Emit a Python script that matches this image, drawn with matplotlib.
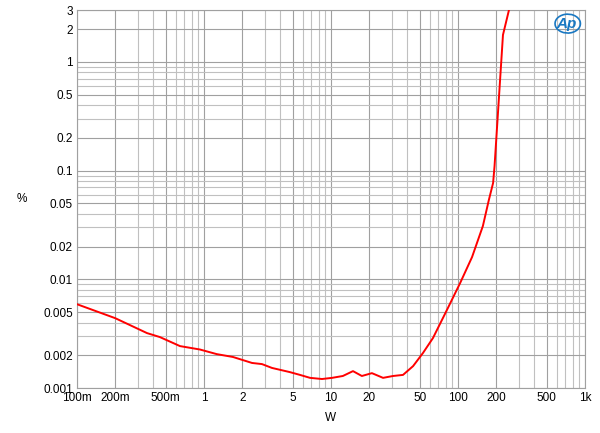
import matplotlib
matplotlib.use("Agg")
import matplotlib.pyplot as plt
from matplotlib.patches import Ellipse
from matplotlib.ticker import FixedLocator, LogLocator, NullFormatter

plt.rcParams['font.family'] = ['Liberation Sans', 'DejaVu Sans']

# THD+N (%) vs output power (W)
power = [0.1, 0.2, 0.356, 0.45, 0.647, 0.93, 1.26, 1.69, 2.39, 2.86, 3.43,
         4.75, 5.7, 6.84, 8.5, 10.2, 12.4, 14.9, 17.5, 21, 25.7, 30.8, 36.9,
         44.3, 53, 63.5, 81.8, 104, 129, 157, 175, 189, 194, 226, 252, 275]
thd = [0.0059, 0.00439, 0.0032, 0.00294, 0.00243, 0.00226, 0.00205, 0.00193,
       0.0017, 0.00166, 0.00153, 0.0014, 0.00132, 0.00124, 0.00121, 0.00124,
       0.00129, 0.00143, 0.00129, 0.00137, 0.00124, 0.00129, 0.00132,
       0.00159, 0.0021, 0.00288, 0.00522, 0.00925, 0.016, 0.0309, 0.0537,
       0.077, 0.11, 1.77, 3.0, 4.5]

xticks = [0.1, 0.2, 0.5, 1, 2, 5, 10, 20, 50, 100, 200, 500, 1000]
xlabels = ['100m', '200m', '500m', '1', '2', '5', '10', '20', '50', '100',
           '200', '500', '1k']
yticks = [0.001, 0.002, 0.005, 0.01, 0.02, 0.05, 0.1, 0.2, 0.5, 1, 2, 3]
ylabels = ['0.001', '0.002', '0.005', '0.01', '0.02', '0.05', '0.1', '0.2',
           '0.5', '1', '2', '3']

fig = plt.figure(figsize=(6, 4.33), dpi=100)
ax = fig.add_axes([0.1283, 0.1039, 0.8467, 0.873])

ax.plot(power, thd, color='#ff0000', lw=1.4, zorder=3)

ax.set_xscale('log')
ax.set_yscale('log')
ax.set_xlim(0.1, 1000)
ax.set_ylim(0.001, 3)

ax.xaxis.set_major_locator(FixedLocator(xticks))
ax.set_xticklabels(xlabels)
ax.xaxis.set_minor_locator(LogLocator(base=10, subs=range(2, 10), numticks=20))
ax.xaxis.set_minor_formatter(NullFormatter())

ax.yaxis.set_major_locator(FixedLocator(yticks))
ax.set_yticklabels(ylabels)
ax.yaxis.set_minor_locator(LogLocator(base=10, subs=range(2, 10), numticks=20))
ax.yaxis.set_minor_formatter(NullFormatter())

ax.grid(True, which='major', color='#a0a0a0', lw=0.8)
ax.grid(True, which='minor', color='#c0c0c0', lw=0.8)
ax.tick_params(which='both', length=0, labelsize=8.5, pad=3, colors='black')
for s in ax.spines.values():
    s.set_color('#a0a0a0')
    s.set_linewidth(0.8)

fig.text(22 / 600, 1 - 199 / 433, '%', ha='center', va='center', fontsize=8.5)
fig.text(331 / 600, 1 - 418 / 433, 'W', ha='center', va='center', fontsize=8.5)

# Audio Precision logo
ax.text(0.963, 0.964, 'Ap', transform=ax.transAxes, ha='center', va='center',
        fontsize=11, style='italic', weight='bold', color='#1a78c2', zorder=4)
ax.add_patch(Ellipse((0.966, 0.964), 0.05, 0.05, angle=15,
                     transform=ax.transAxes, fill=False, ec='#1a78c2',
                     lw=1.2, zorder=4))

fig.savefig('out.png', dpi=100)
